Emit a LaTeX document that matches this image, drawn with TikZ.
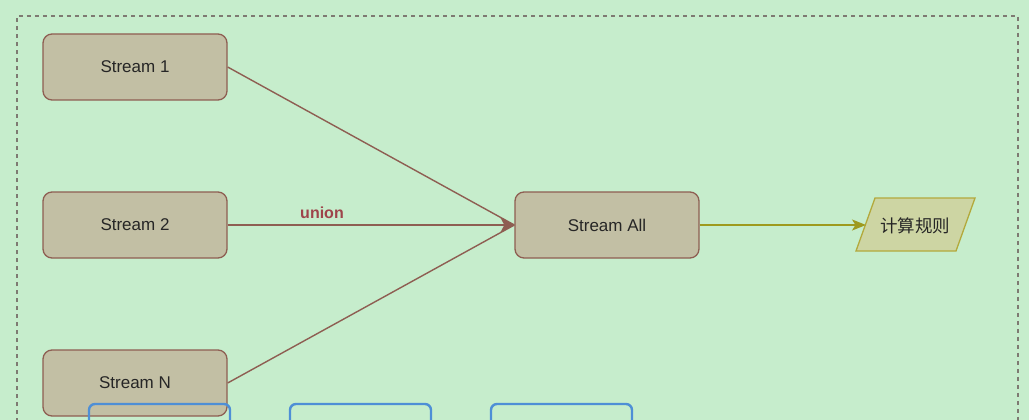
\documentclass[tikz,border=0pt]{standalone}
\usepackage{fontspec}
\setmainfont{Liberation Sans}
\newfontfamily\cjk{Noto Sans CJK SC}
\usetikzlibrary{arrows.meta}
\definecolor{bggreen}{HTML}{C6EDCC}
\definecolor{tanfill}{HTML}{C2BFA4}
\definecolor{brownline}{HTML}{8E5E52}
\definecolor{unionred}{HTML}{9E454B}
\definecolor{olivefill}{HTML}{CDD5A3}
\definecolor{oliveline}{HTML}{B3A93C}
\definecolor{arrowolive}{HTML}{9E9A1E}
\definecolor{boxblue}{HTML}{4E8FD6}
\definecolor{dashgray}{HTML}{7E7A72}
\tikzset{
  stream/.style={draw=brownline, fill=tanfill, rounded corners=9pt, minimum width=184pt, minimum height=66pt, line width=1.3pt, font=\fontsize{17}{20}\selectfont, text=black!85},
  flow/.style={draw=brownline, line width=1.4pt},
  paratext/.style={inner sep=0pt, font=\cjk\fontsize{17.5}{20}\selectfont, text=black!85},
  parashape/.style={draw=oliveline, fill=olivefill, line width=1.3pt, line join=miter},
  bluebox/.style={draw=boxblue, rounded corners=6pt, line width=2.4pt},
}
\begin{document}
\begin{tikzpicture}[x=1pt,y=-1pt]
\useasboundingbox (0,0) rectangle (1029,420);
\fill[bggreen] (0,0) rectangle (1029,420);
\draw[dashgray, line width=1.1pt, dash pattern=on 4pt off 4pt] (17,430) -- (17,16) -- (1018,16) -- (1018,430);
\node[stream] (s1) at (135,67) {Stream 1};
\node[stream] (s2) at (135,225) {Stream 2};
\node[stream] (sn) at (135,383) {Stream N};
\node[stream] (sa) at (607,225) {Stream All};
\coordinate (pa) at (875,198);
\coordinate (pb) at (975,198);
\coordinate (pc) at (956,251);
\coordinate (pd) at (856,251);
\draw[parashape] (pa) -- (pb) -- (pc) -- (pd) -- cycle;
\node[paratext] (calc) at (915,226) {计算规则};
\coordinate (calcin) at (866,225);
\coordinate (in) at (sa.west);
\draw[flow] (s1.east) -- (in);
\draw[flow] (sn.east) -- (in);
\draw[flow, -{Stealth[length=14pt,width=15pt,inset=4pt]}] (s2.east) -- (in);
\node[font=\bfseries\fontsize{16}{18}\selectfont, text=unionred] (un) at (322,213) {union};
\draw[arrowolive, line width=1.4pt, -{Stealth[length=14pt,width=11pt,inset=3.5pt]}] (sa.east) -- (calcin);
\begin{scope}
\clip (0,0) rectangle (1029,420);
\draw[bluebox] (89,404) rectangle (230,460);
\draw[bluebox] (290,404) rectangle (431,460);
\draw[bluebox] (491,404) rectangle (632,460);
\end{scope}
\end{tikzpicture}
\end{document}
